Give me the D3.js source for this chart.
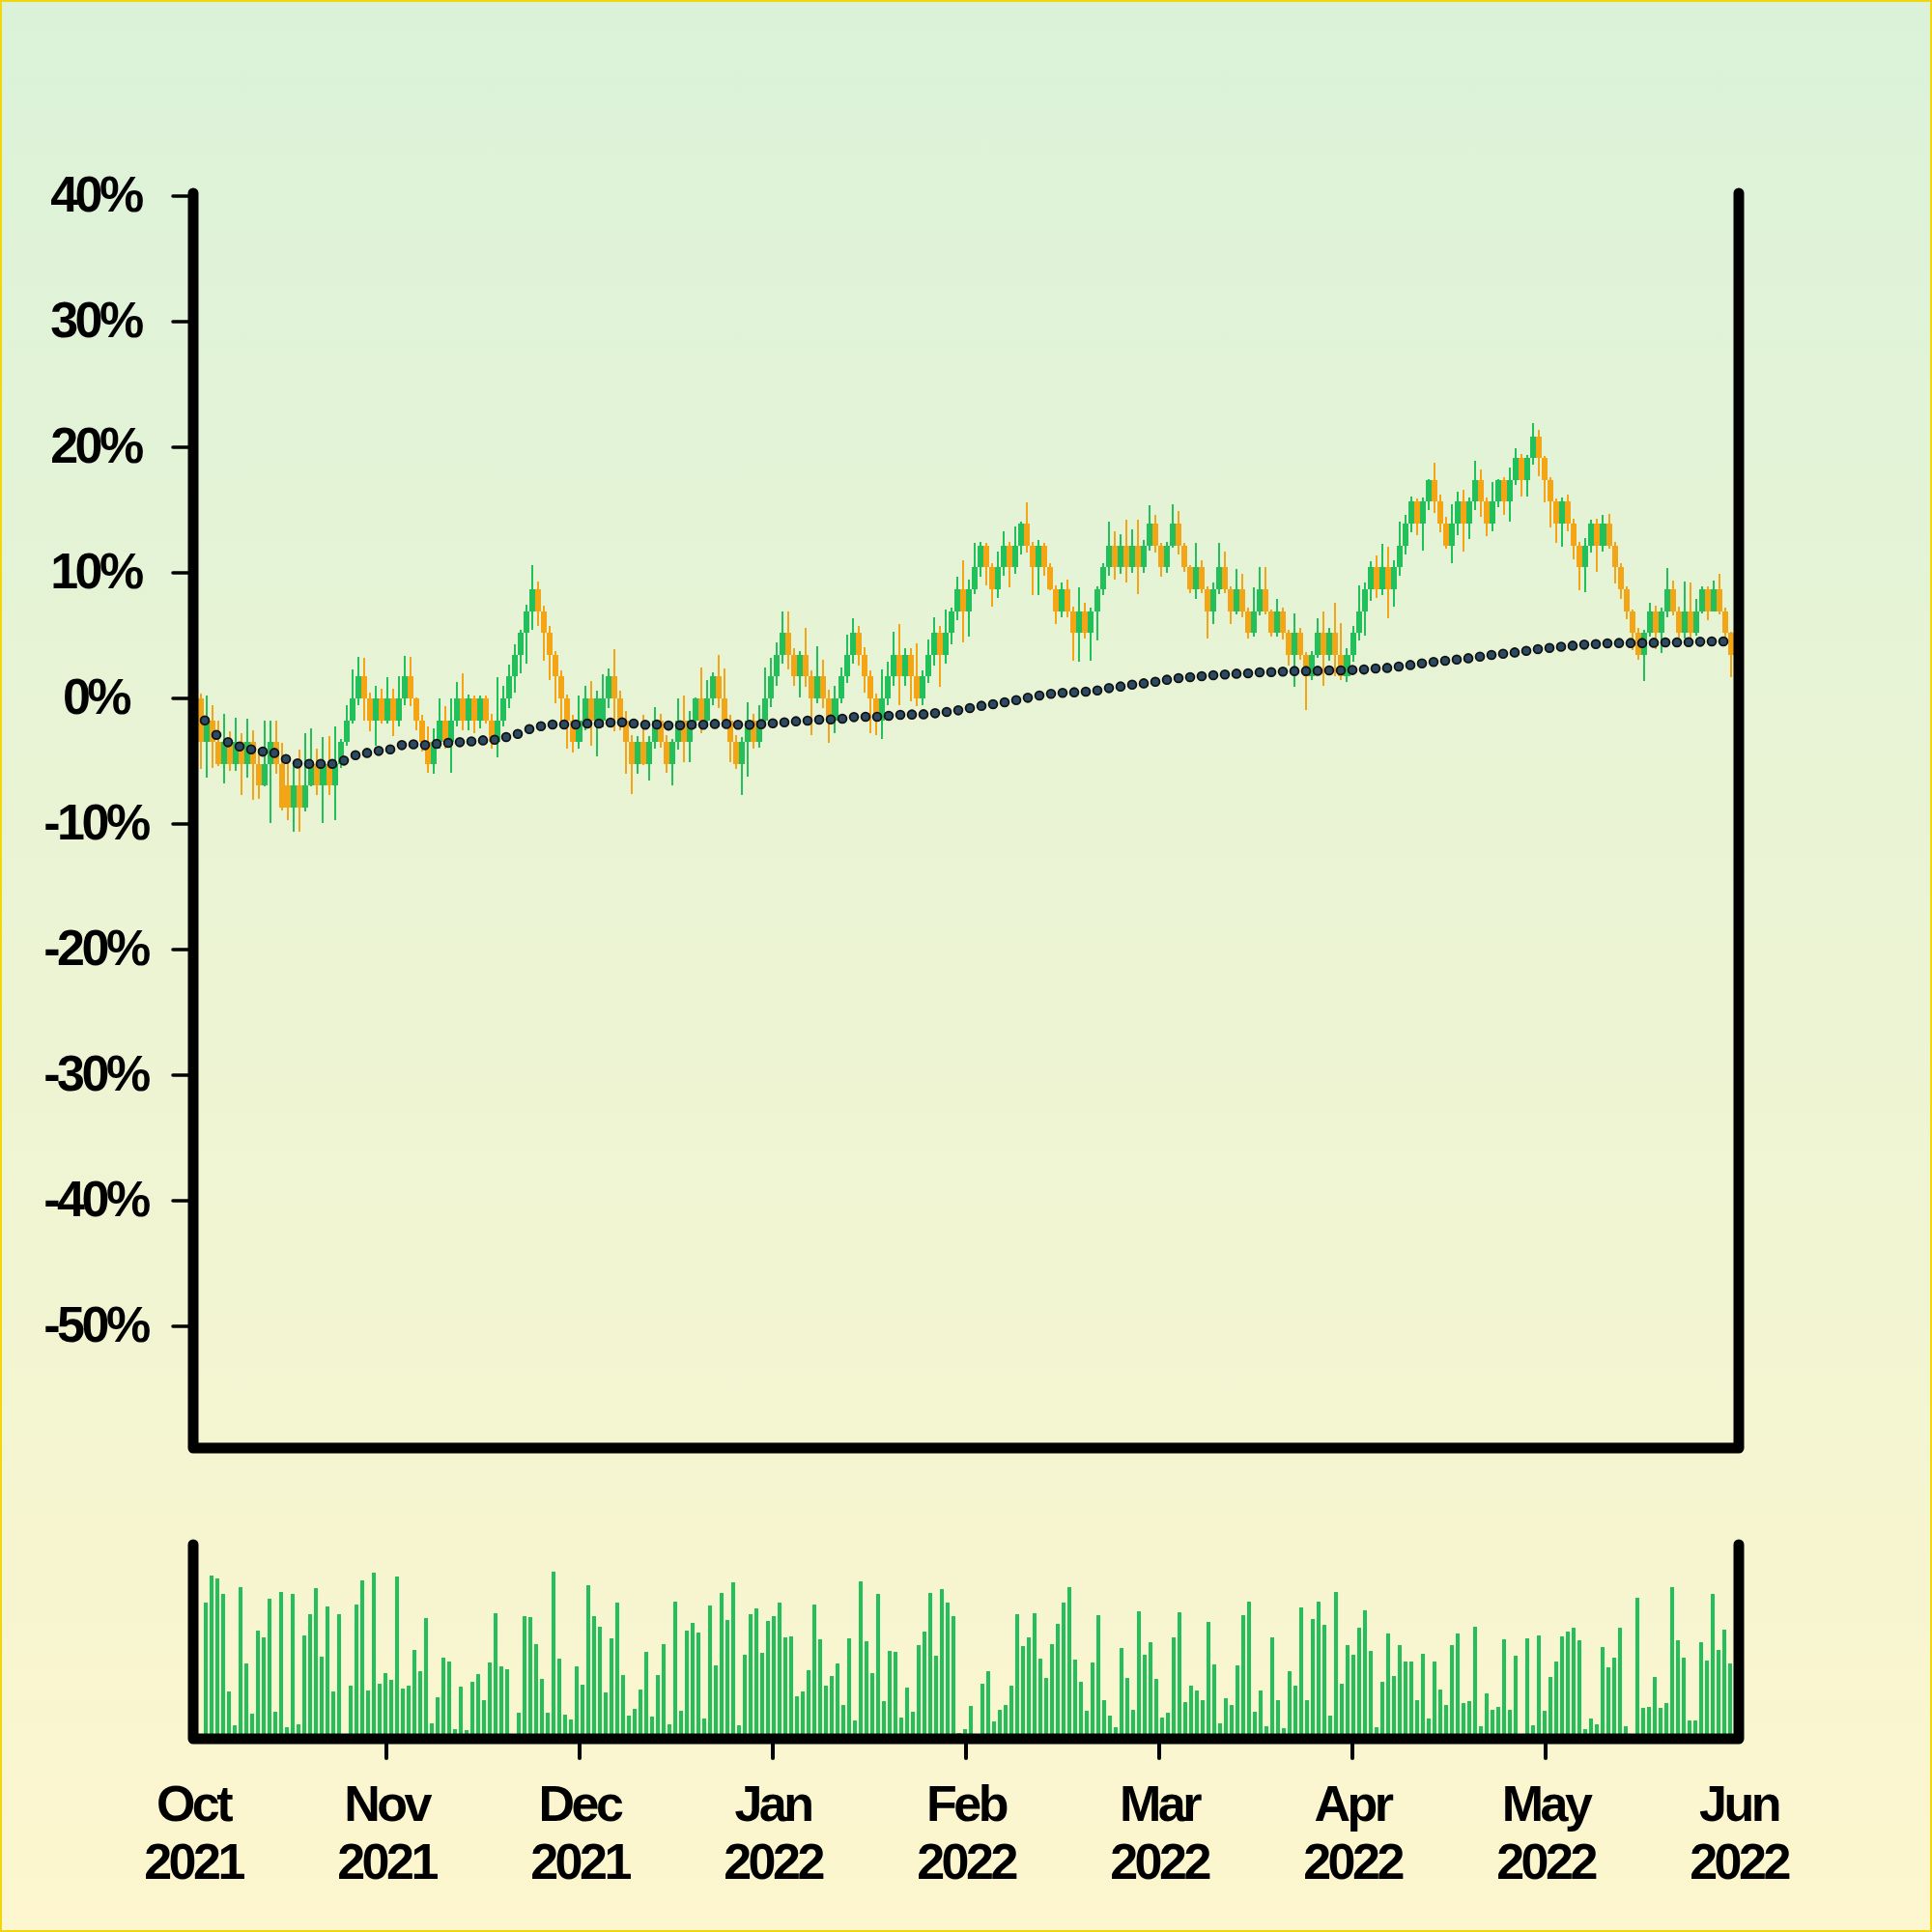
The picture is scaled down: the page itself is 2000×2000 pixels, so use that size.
<!DOCTYPE html>
<html>
<head>
<meta charset="utf-8">
<script src="https://cdn.jsdelivr.net/npm/d3@7"></script>
<style>
html,body{margin:0;padding:0;background:#ffffff;}
svg{display:block;}
text{font-family:"Liberation Sans",Arial,Helvetica,sans-serif;font-weight:bold;fill:#000;}
</style>
</head>
<body>
<svg id="chart" width="2000" height="2000"></svg>
<script>
// ---------------- DATA ----------------
const monthLabels = [["Oct","2021"],["Nov","2021"],["Dec","2021"],["Jan","2022"],["Feb","2022"],["Mar","2022"],["Apr","2022"],["May","2022"],["Jun","2022"]];
const yTickValues = [-50,-40,-30,-20,-10,0,10,20,30,40];

// percent change, one candle per session
const opens = [
0,-3.48,-1.74,-3.48,-5.22,-3.48,-5.22,-3.48,-5.22,-3.48,-5.22,-6.96,-5.22,-3.48,-5.22,-6.96,-8.70,-6.96,-8.70,-6.96,
-5.22,-6.96,-5.22,-6.96,-5.22,-3.48,-1.74,0,1.74,0,-1.74,0,-1.74,0,-1.74,0,1.74,0,-1.74,-3.48,
-5.22,-3.48,-1.74,-3.48,-1.74,0,-1.74,0,-1.74,0,-1.74,-3.48,-1.74,0,1.74,3.48,5.22,6.96,8.70,6.96,
5.22,3.48,1.74,0,-1.74,-3.48,-1.74,0,-1.74,-1.74,0,1.74,0,-1.74,-3.48,-5.22,-3.48,-5.22,-3.48,-1.74,
-3.48,-5.22,-3.48,-1.74,-3.48,-1.74,0,-1.74,0,1.74,0,-1.74,-3.48,-5.22,-3.48,-1.74,-3.48,-1.74,0,1.74,
3.48,5.22,3.48,1.74,3.48,1.74,0,1.74,0,-1.74,0,1.74,3.48,5.22,3.48,1.74,0,-1.74,0,1.74,
3.48,1.74,3.48,1.74,0,1.74,3.48,5.22,3.48,5.22,6.96,8.70,6.96,8.70,10.44,12.18,10.44,8.70,10.44,12.18,
10.44,12.18,13.92,12.18,10.44,12.18,10.44,8.70,6.96,8.70,6.96,5.22,6.96,5.22,6.96,8.70,10.44,12.18,10.44,12.18,
10.44,12.18,10.44,12.18,13.92,12.18,10.44,12.18,13.92,12.18,10.44,8.70,10.44,8.70,6.96,8.70,10.44,8.70,6.96,8.70,
6.96,5.22,6.96,8.70,6.96,5.22,6.96,5.22,3.48,5.22,3.48,1.74,3.48,5.22,3.48,5.22,3.48,1.74,3.48,5.22,
6.96,8.70,10.44,8.70,10.44,8.70,10.44,12.18,13.92,15.66,13.92,15.66,17.40,15.66,13.92,12.18,13.92,15.66,13.92,15.66,
17.40,15.66,13.92,15.66,17.40,15.66,17.40,19.14,17.40,19.14,20.88,19.14,17.40,15.66,13.92,15.66,13.92,12.18,10.44,12.18,
13.92,12.18,13.92,12.18,10.44,8.70,6.96,5.22,3.48,5.22,6.96,5.22,6.96,8.70,6.96,5.22,6.96,5.22,6.96,8.70,
6.96,8.70,6.96,5.22];
const closes = [
-3.48,-1.74,-3.48,-5.22,-3.48,-5.22,-3.48,-5.22,-3.48,-5.22,-6.96,-5.22,-3.48,-5.22,-8.70,-8.70,-6.96,-8.70,-6.96,-5.22,
-6.96,-5.22,-6.96,-5.22,-3.48,-1.74,0,1.74,0,-1.74,0,-1.74,0,-1.74,0,1.74,0,-1.74,-3.48,-5.22,
-3.48,-1.74,-3.48,-1.74,0,-1.74,0,-1.74,0,-1.74,-3.48,-1.74,0,1.74,3.48,5.22,6.96,8.70,6.96,5.22,
3.48,1.74,0,-1.74,-3.48,-1.74,0,-1.74,0,0,1.74,0,-1.74,-3.48,-5.22,-3.48,-5.22,-3.48,-1.74,-3.48,
-5.22,-3.48,-1.74,-3.48,-1.74,0,-1.74,0,1.74,0,-1.74,-3.48,-5.22,-3.48,-1.74,-3.48,-1.74,0,1.74,3.48,
5.22,3.48,1.74,3.48,1.74,0,1.74,0,-1.74,0,1.74,3.48,5.22,3.48,1.74,0,-1.74,0,1.74,3.48,
1.74,3.48,1.74,0,1.74,3.48,5.22,3.48,5.22,6.96,8.70,6.96,8.70,10.44,12.18,10.44,8.70,10.44,12.18,10.44,
12.18,13.92,12.18,10.44,12.18,10.44,8.70,6.96,8.70,6.96,5.22,6.96,5.22,6.96,8.70,10.44,12.18,10.44,12.18,10.44,
12.18,10.44,12.18,13.92,12.18,10.44,12.18,13.92,12.18,10.44,8.70,10.44,8.70,6.96,8.70,10.44,8.70,6.96,8.70,6.96,
5.22,6.96,8.70,6.96,5.22,6.96,5.22,3.48,5.22,3.48,1.74,3.48,5.22,3.48,5.22,3.48,1.74,3.48,5.22,6.96,
8.70,10.44,8.70,10.44,8.70,10.44,12.18,13.92,15.66,13.92,15.66,17.40,15.66,13.92,12.18,13.92,15.66,13.92,15.66,17.40,
15.66,13.92,15.66,17.40,15.66,17.40,19.14,17.40,19.14,20.88,19.14,17.40,15.66,13.92,15.66,13.92,12.18,10.44,12.18,13.92,
12.18,13.92,12.18,10.44,8.70,6.96,5.22,3.48,5.22,6.96,5.22,6.96,8.70,6.96,5.22,6.96,5.22,6.96,8.70,6.96,
8.70,6.96,5.22,3.48];
const highs = [
0.4,0.2,-0.5,-1.8,-1.2,-2.6,-1.5,-2.8,-1.6,-2.5,-4.0,-1.8,-1.8,-1.8,-3.5,-5.0,-5.0,-4.1,-2.8,-2.4,
-4.0,-3.1,-3.0,-2.2,-3.2,-0.5,2.3,3.3,3.2,0.5,1.0,0.8,1.7,0.8,1.8,3.4,3.3,0.1,-1.3,-2.2,
-2.4,0.0,-0.6,0.0,1.3,2.0,0.3,0.2,0.2,0.2,-1.2,1.7,1.0,2.7,4.3,5.5,7.5,10.6,9.3,7.4,
5.8,3.8,2.2,0.3,-1.3,0.2,1.0,1.4,0.6,1.9,2.4,3.9,0.6,-1.0,-2.9,-3.0,-1.3,-3.0,-0.7,-1.2,
-2.9,-3.2,0.0,0.2,-1.0,0.1,2.5,1.5,2.1,3.5,2.4,-1.3,-2.9,-3.1,-0.3,-1.2,-0.5,2.5,3.2,4.5,
6.9,6.9,4.0,3.8,5.6,2.2,4.15,3.1,0.7,1.0,2.5,5.1,6.4,5.8,4.1,2.2,0.4,2.3,2.9,5.3,
5.95,4.0,4.0,4.4,2.2,4.7,6.5,5.8,7.1,7.2,9.7,11.0,9.5,12.4,12.5,12.4,10.8,11.7,13.3,12.5,
13.7,14.1,15.6,12.5,12.6,12.4,10.8,9.0,9.2,9.5,7.3,8.85,7.6,7.2,8.9,10.8,14.1,13.3,13.1,14.2,
13.5,14.2,12.6,15.4,14.6,12.4,12.5,15.5,14.9,12.4,10.6,12.4,11.0,8.9,9.2,12.4,11.7,8.9,10.3,9.95,
7.2,8.85,10.5,10.5,7.1,7.9,7.2,5.5,6.8,5.6,3.7,3.8,6.4,6.9,5.6,7.6,6.0,4.0,5.8,9.0,
9.2,10.9,11.4,12.3,12.1,11.0,14.1,14.6,16.1,15.9,16.0,17.5,18.8,16.2,14.5,15.5,16.5,16.6,16.0,18.9,
18.25,16.0,17.2,17.5,17.6,18.4,19.9,19.5,19.4,21.9,21.4,19.3,17.6,15.9,16.0,16.2,14.3,12.5,12.8,14.2,
14.3,14.6,14.7,12.5,10.8,8.9,7.1,5.6,5.5,7.6,7.4,7.2,10.4,9.4,7.3,9.3,9.2,7.9,8.9,8.9,
9.4,9.9,7.2,5.3];
const lows = [
-5.6,-6.3,-5.5,-5.4,-6.8,-5.8,-5.8,-7.7,-6.3,-8.1,-8.0,-7.0,-9.9,-6.0,-8.9,-9.7,-10.6,-10.6,-9.0,-7.0,
-7.7,-9.9,-7.7,-9.7,-5.5,-3.8,-2.0,-0.5,-1.8,-2.6,-3.8,-2.0,-2.0,-3.0,-2.2,-0.5,-0.6,-2.5,-4.2,-5.9,
-6.0,-4.0,-4.0,-5.9,-2.2,-2.5,-2.5,-2.8,-2.4,-2.0,-4.0,-4.7,-2.2,-0.8,0.5,2.0,2.8,5.5,5.8,3.0,
1.5,-0.4,-2.0,-4.0,-4.3,-4.0,-2.5,-3.8,-4.6,-2.3,-0.8,-2.6,-2.5,-6.0,-7.6,-6.0,-5.3,-6.5,-4.0,-3.9,
-5.9,-6.9,-4.1,-5.1,-5.1,-2.4,-2.8,-2.3,-0.5,-0.8,-2.3,-5.1,-5.6,-7.7,-6.2,-4.0,-3.9,-2.0,-0.7,1.0,
2.8,2.3,1.0,0.1,0.9,-2.9,-0.4,-0.8,-3.5,-2.8,-0.4,1.2,2.8,2.6,0.5,-2.8,-2.9,-3.2,-0.5,1.0,
-0.5,1.0,-0.2,-0.6,-0.5,1.2,2.6,0.9,2.8,4.3,6.2,4.5,4.9,8.3,9.7,9.0,7.3,8.0,9.8,8.85,
9.9,11.5,11.6,8.2,8.2,9.8,8.6,5.95,6.5,6.5,3.0,2.9,4.8,3.0,4.6,8.2,9.8,9.5,9.9,9.2,
10.0,8.3,10.0,11.8,11.6,9.7,10.0,12.0,11.5,10.1,8.4,7.9,8.4,4.75,5.95,8.3,8.4,5.9,6.7,6.5,
4.75,4.9,6.6,6.7,4.9,4.9,4.7,2.6,0.9,3.1,-0.9,1.5,3.2,1.0,3.0,1.8,1.5,1.3,2.9,4.6,
5.0,7.8,8.0,8.2,6.35,7.3,9.8,11.5,13.2,13.0,11.8,15.0,14.8,13.2,11.9,10.8,13.0,11.7,12.7,15.0,
14.5,12.9,13.3,15.2,14.6,14.05,17.0,16.1,16.1,18.6,17.7,15.6,13.6,12.4,12.1,13.3,11.1,8.6,8.5,11.6,
10.1,11.7,11.9,9.15,7.9,6.3,3.85,3.1,1.4,4.9,3.9,3.6,6.5,6.6,4.5,4.8,4.7,5.0,6.8,6.2,
6.9,6.7,4.7,1.7];
const volumes = [
136,164,161,145,44,9,152,73,21,107,100,140,23,147,7,145,10,102,124,151,
80,132,44,124,0,50,134,159,45,167,52,63,56,163,47,50,87,65,120,11,
38,79,75,5,49,4,54,62,35,74,125,70,67,0,22,122,121,93,57,22,
168,78,20,15,70,51,154,122,111,43,99,136,61,19,26,46,85,18,61,93,
10,137,24,107,115,105,16,133,71,146,118,157,9,82,124,130,84,117,122,136,
100,101,39,44,66,134,98,50,60,73,30,99,14,158,96,63,145,34,86,85,
17,48,23,92,106,146,81,150,136,122,1,5,29,0,52,65,13,25,30,50,
124,91,100,125,78,58,93,114,136,152,77,54,24,74,123,35,19,7,89,58,
25,127,82,95,57,17,22,100,126,33,50,45,35,116,72,11,37,30,71,123,
137,23,45,8,100,35,6,65,50,131,35,119,137,113,19,147,52,92,82,110,
128,86,7,54,104,60,92,75,75,35,83,16,75,46,30,92,104,32,34,111,
8,42,25,28,98,25,81,0,99,9,102,24,59,75,101,106,110,97,5,16,
10,90,69,79,110,8,0,141,27,28,59,27,32,152,97,79,14,14,95,76,
145,87,108,73];
// moving average, one point every second session
const maValues = [
-1.75,-2.9,-3.49,-3.83,-4.06,-4.24,-4.34,-4.83,-5.18,-5.21,-5.21,-5.21,-4.95,-4.52,-4.34,-4.18,-4.06,-3.72,-3.65,-3.72,
-3.62,-3.54,-3.49,-3.42,-3.34,-3.29,-3.08,-2.83,-2.44,-2.21,-2.08,-2.08,-2.08,-2.0,-2.0,-1.92,-1.9,-2.0,-2.1,-2.08,
-2.16,-2.13,-2.1,-2.1,-2.03,-2.03,-2.1,-2.1,-2.05,-1.98,-1.9,-1.82,-1.77,-1.69,-1.67,-1.62,-1.49,-1.46,-1.46,-1.39,
-1.31,-1.28,-1.26,-1.18,-1.08,-0.95,-0.77,-0.59,-0.46,-0.31,-0.13,0.05,0.23,0.36,0.44,0.49,0.54,0.64,0.82,0.95,
1.1,1.2,1.33,1.49,1.62,1.69,1.77,1.85,1.9,1.97,2.0,2.08,2.1,2.13,2.18,2.18,2.2,2.23,2.23,2.26,
2.3,2.38,2.43,2.54,2.66,2.79,2.9,3.0,3.1,3.2,3.33,3.46,3.56,3.66,3.79,3.92,4.02,4.12,4.2,4.28,
4.33,4.38,4.41,4.41,4.41,4.43,4.46,4.46,4.48,4.51,4.54,4.54];

// ---------------- DRAW ----------------
const W = 2000, H = 2000;
const UP = "#21c05b", DOWN = "#f3a516";
const svg = d3.select("#chart");

const defs = svg.append("defs");
const grad = defs.append("linearGradient").attr("id","bg").attr("x1",0).attr("y1",0).attr("x2",0).attr("y2",1);
grad.append("stop").attr("offset","0%").attr("stop-color","#dbf2d9");
grad.append("stop").attr("offset","100%").attr("stop-color","#fdf6ce");
svg.append("rect").attr("x",0).attr("y",0).attr("width",W).attr("height",H).attr("fill","url(#bg)");
svg.append("rect").attr("x",1).attr("y",1).attr("width",W-2).attr("height",H-2)
  .attr("fill","none").attr("stroke","#f0d60a").attr("stroke-width",2);

const N = opens.length;
const idx = d3.range(N);
const candles = idx.map(i => ({i, o: opens[i], c: closes[i], h: highs[i], l: lows[i], v: volumes[i]}));

const x = d3.scaleBand().domain(idx).range([205, 1795]).padding(0);
const xv = d3.scaleBand().domain(idx).range([210, 1794]).paddingInner(1/3).paddingOuter(1/6);
const y = d3.scaleLinear().domain([-60, 40]).range([1503, 203]);
const yv = d3.scaleLinear().domain([0, 200]).range([1795, 1595]);
const xm = d3.scalePoint().domain(monthLabels.map(d => d.join(" "))).range([200, 1800]);

// y axis ticks + labels
const yAxisG = svg.append("g");
yAxisG.selectAll("line").data(yTickValues).join("line")
  .attr("x1",179).attr("x2",200).attr("y1",d=>y(d)).attr("y2",d=>y(d))
  .attr("stroke","#000").attr("stroke-width",3.5).attr("stroke-linecap","round");
yAxisG.selectAll("text").data(yTickValues).join("text")
  .attr("x",99).attr("y",d=>y(d)+16)
  .attr("text-anchor","middle").attr("font-size",52).attr("letter-spacing","-3.5px")
  .text(d => d + "%");

// candles
const cg = svg.append("g").attr("shape-rendering","crispEdges");
const bw = x.bandwidth();
cg.selectAll("rect.wick").data(candles).join("rect").attr("class","wick")
  .attr("x",d=>Math.round(x(d.i)+bw/2)-1).attr("width",2)
  .attr("y",d=>y(d.h)).attr("height",d=>y(d.l)-y(d.h))
  .attr("fill",d=>d.c>=d.o?UP:DOWN);
cg.selectAll("rect.body").data(candles).join("rect").attr("class","body")
  .attr("x",d=>Math.round(x(d.i))).attr("width",d=>Math.round(x(d.i)+bw)-Math.round(x(d.i)))
  .attr("y",d=>y(Math.max(d.o,d.c)))
  .attr("height",d=>Math.max(1, Math.abs(y(d.o)-y(d.c))))
  .attr("fill",d=>d.c>=d.o?UP:DOWN);

// moving average dots
const maData = maValues.map((v,j) => ({j, v}));
svg.append("g").selectAll("circle").data(maData).join("circle")
  .attr("cx",d=>xv(2*d.j)+xv.bandwidth()/2-1)
  .attr("cy",d=>y(d.v))
  .attr("r",4.4)
  .attr("fill","#2d4a63").attr("stroke","#111").attr("stroke-width",1.8);

// volume bars
svg.append("g").attr("shape-rendering","crispEdges")
  .selectAll("rect").data(candles.filter(d=>d.v>0)).join("rect")
  .attr("x",d=>xv(d.i)).attr("width",xv.bandwidth())
  .attr("y",d=>yv(d.v)).attr("height",d=>yv(0)-yv(d.v))
  .attr("fill",UP);

// frames
svg.append("path").attr("d","M200,200V1499H1800V200")
  .attr("fill","none").attr("stroke","#000").attr("stroke-width",11)
  .attr("stroke-linecap","round").attr("stroke-linejoin","round");
svg.append("path").attr("d","M200,1599V1800H1800V1599")
  .attr("fill","none").attr("stroke","#000").attr("stroke-width",11)
  .attr("stroke-linecap","round").attr("stroke-linejoin","round");

// month ticks (inner months) + labels
const mg = svg.append("g");
mg.selectAll("line").data(monthLabels.slice(1, -1)).join("line")
  .attr("x1",d=>xm(d.join(" "))).attr("x2",d=>xm(d.join(" ")))
  .attr("y1",1800).attr("y2",1820)
  .attr("stroke","#000").attr("stroke-width",4).attr("stroke-linecap","round");
const mt = mg.selectAll("text").data(monthLabels).join("text")
  .attr("text-anchor","middle").attr("font-size",52).attr("letter-spacing","-3.5px");
mt.append("tspan").attr("x",d=>xm(d.join(" "))).attr("y",1885).text(d=>d[0]);
mt.append("tspan").attr("x",d=>xm(d.join(" "))).attr("y",1945).text(d=>d[1]);
</script>
</body>
</html>
